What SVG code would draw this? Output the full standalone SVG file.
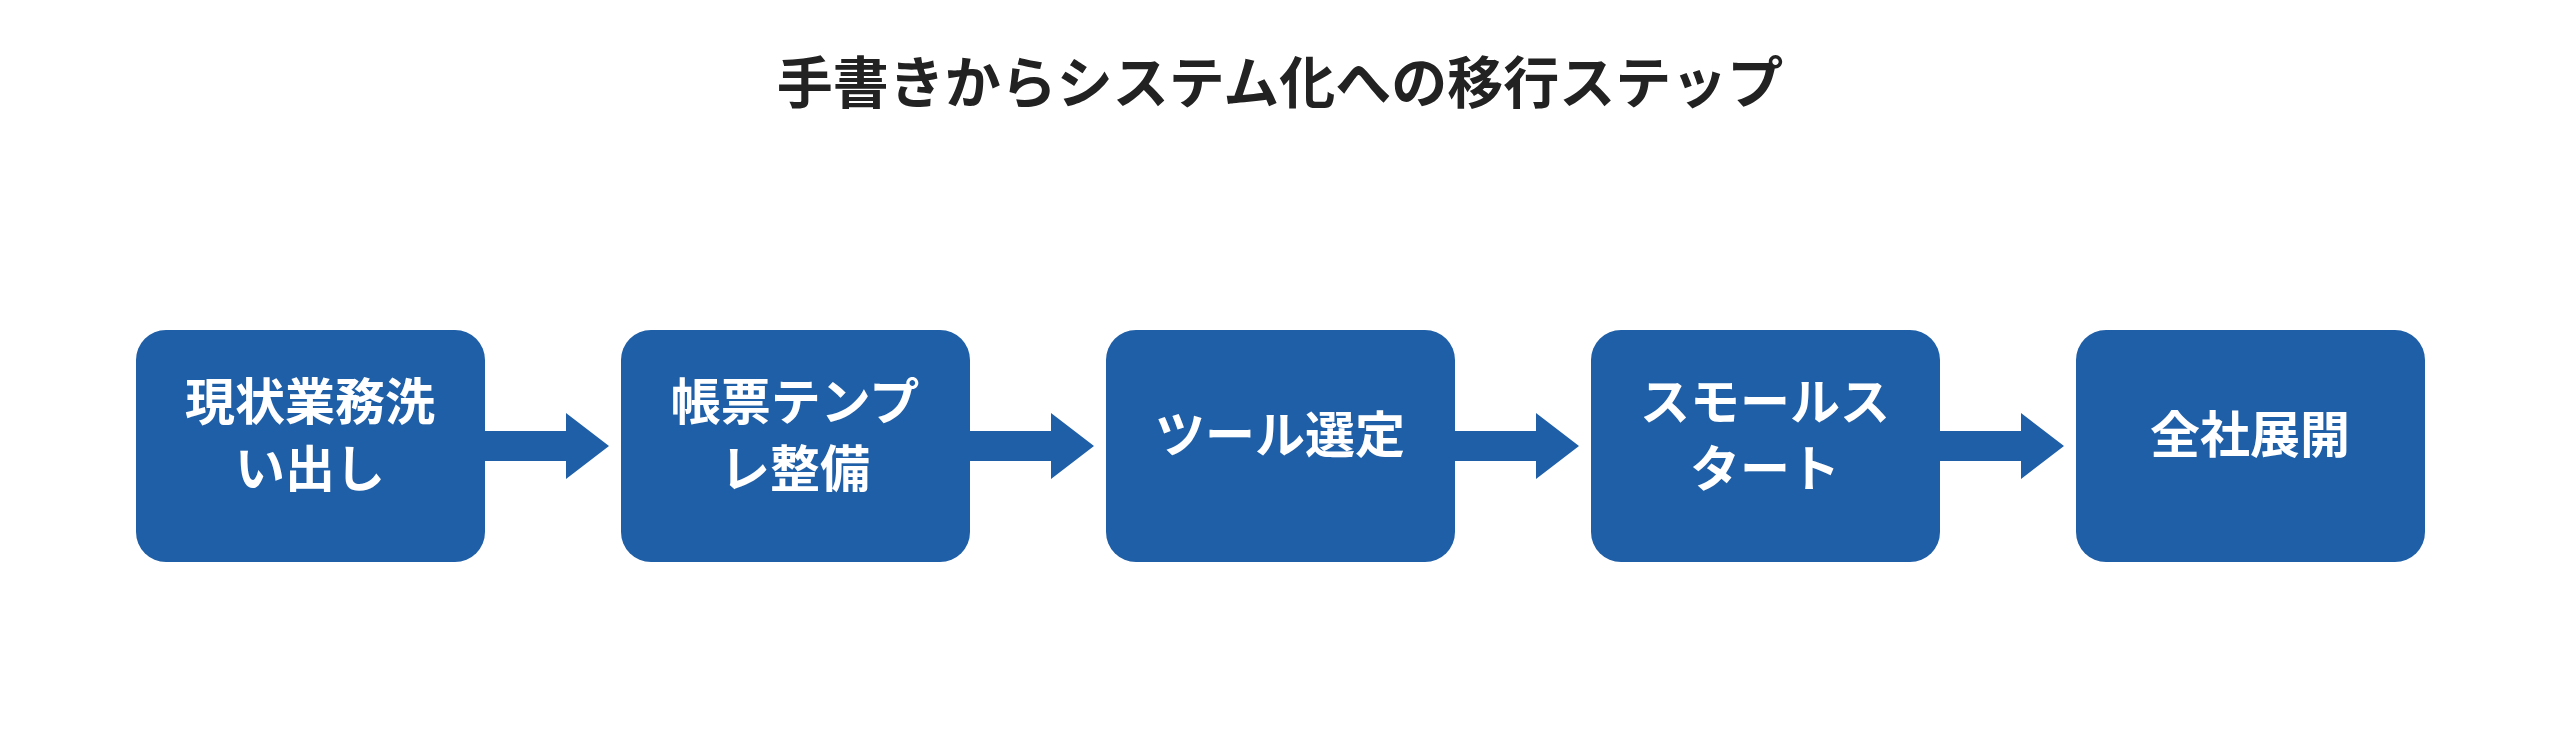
<svg xmlns="http://www.w3.org/2000/svg" width="2560" height="737" viewBox="0 0 2560 737">
<style>
.n{fill:#1f5fa8}
.t{font-family:"Noto Sans CJK JP","Noto Sans",sans-serif;font-weight:bold;fill:#fff;font-size:50px;text-anchor:middle;dominant-baseline:central}
.title{font-family:"Noto Sans CJK JP","Noto Sans",sans-serif;font-weight:bold;fill:#222;font-size:56px;text-anchor:middle;dominant-baseline:central}
.a{fill:#1f5fa8}
</style>
<rect width="2560" height="737" fill="#fff"/>
<text class="title" x="1280" y="78">手書きからシステム化への移行ステップ</text>
<g id="connectors">
<polygon class="a" points="359,431 566,431 566,413 609,446 566,479 566,461 359,461"/>
<polygon class="a" points="844,431 1051,431 1051,413 1094,446 1051,479 1051,461 844,461"/>
<polygon class="a" points="1329,431 1536,431 1536,413 1579,446 1536,479 1536,461 1329,461"/>
<polygon class="a" points="1814,431 2021,431 2021,413 2064,446 2021,479 2021,461 1814,461"/>
</g>
<g id="n1"><rect class="n" x="136" y="330" width="349" height="232" rx="30"/><text class="t" x="310" y="398">現状業務洗</text><text class="t" x="310" y="465">い出し</text></g>
<g id="n2"><rect class="n" x="621" y="330" width="349" height="232" rx="30"/><text class="t" x="795" y="398">帳票テンプ</text><text class="t" x="795" y="465">レ整備</text></g>
<g id="n3"><rect class="n" x="1106" y="330" width="349" height="232" rx="30"/><text class="t" x="1280" y="431">ツール選定</text></g>
<g id="n4"><rect class="n" x="1591" y="330" width="349" height="232" rx="30"/><text class="t" x="1765" y="398">スモールス</text><text class="t" x="1765" y="465">タート</text></g>
<g id="n5"><rect class="n" x="2076" y="330" width="349" height="232" rx="30"/><text class="t" x="2250" y="431">全社展開</text></g>
</svg>
